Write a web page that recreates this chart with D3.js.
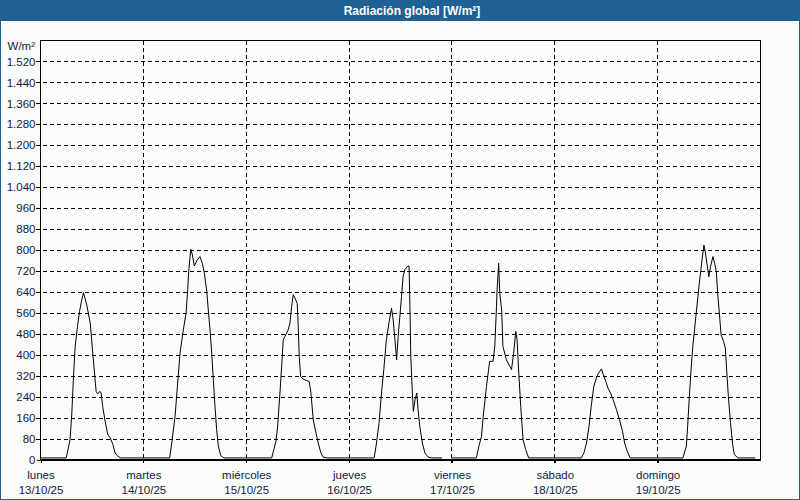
<!DOCTYPE html>
<html>
<head>
<meta charset="utf-8">
<script src="https://cdn.jsdelivr.net/npm/d3@7/dist/d3.min.js"></script>
<style>
  html, body { margin: 0; padding: 0; background: #f9fcf9; }
  svg { display: block; }
</style>
</head>
<body>
<svg id="chart" width="800" height="500"></svg>
<script>
// ---- data ----
const titleText = "Radiación global [W/m²]";
const unitLabel = "W/m²";
const startDate = new Date(2025, 9, 13, 0, 0, 0);
const dayNames = ["lunes", "martes", "miércoles", "jueves", "viernes", "sábado", "domingo"];
const dayDates = ["13/10/25", "14/10/25", "15/10/25", "16/10/25", "17/10/25", "18/10/25", "19/10/25"];
const yTicks = [0, 80, 160, 240, 320, 400, 480, 560, 640, 720, 800, 880, 960, 1040, 1120, 1200, 1280, 1360, 1440, 1520];

// hours since 13/10/25 00:00, and global radiation (W/m²); null = missing data
const hours = [
  0, 6.0, 6.9, 7.31, 7.7, 8.09, 8.63, 9.1, 9.64, 10.03, 10.8, 11.6, 12.2, 12.6, 12.98, 13.3, 13.9, 14.15, 14.5, 15.08, 15.7, 16.25, 16.9, 17.4, 18.0, 18.7,
  30.14, 30.63, 31.4, 31.94, 32.56, 33.33, 33.96, 34.35, 34.58, 34.9, 35.06, 35.44, 35.9, 36.45, 37.2, 37.8, 38.23, 38.8, 39.15, 39.56, 39.95, 40.33, 40.72, 41.1, 41.5, 42.05, 42.8,
  53.94, 54.94, 55.33, 55.87, 56.27, 56.64, 57.04, 57.8, 58.2, 58.6, 58.97, 59.37, 59.9, 60.14, 60.37, 60.7, 61.3, 62.1, 62.7, 63.1, 63.64, 64.27, 64.8, 65.43, 65.97, 66.9,
  77.86, 78.4, 79.0, 79.56, 80.1, 80.7, 81.3, 81.9, 82.3, 82.7, 83.1, 83.45, 83.85, 84.24, 84.6, 85.0, 85.6, 86.0, 86.2, 86.4, 86.7, 87.0, 87.4, 87.8, 88.1, 88.5, 89.1, 89.7, 90.45, 91.2, 93.7,
  94.8,
  95.9, 101.7, 102.3, 102.9, 103.3, 104.06, 104.8, 105.6, 106.0, 106.4, 106.5, 106.9, 107.16, 107.6, 107.9, 108.7, 109.5, 109.9, 110.4, 110.9, 111.2, 111.6, 112.05, 112.6, 113.2, 113.9,
  126.2, 126.8, 127.4, 128.0, 128.5, 129.1, 129.7, 130.2, 130.9, 131.2, 131.9, 132.4, 133.0, 133.6, 134.4, 135.1, 135.8, 136.3, 136.9, 137.6,
  149.9, 150.7, 151.0, 151.4, 151.8, 152.2, 152.6, 153.0, 153.4, 153.8, 154.1, 154.4, 154.8, 155.1, 155.5, 155.95, 156.35, 156.9, 157.3, 157.7, 158.0, 158.4, 158.8, 159.4, 159.8, 160.1, 160.5, 161.0, 161.5, 161.9, 162.7, 166.8
];
const radiation = [
  6, 6, 76, 178, 317, 432, 508, 565, 610, 637, 590, 521, 406, 330, 260, 251, 260, 254, 203, 146, 95, 83, 57, 25, 13, 6,
  6, 63, 165, 279, 406, 495, 559, 648, 717, 775, 803, 781, 739, 759, 775, 747, 711, 641, 571, 495, 406, 305, 203, 114, 51, 15, 6,
  6, 70, 127, 254, 356, 457, 470, 495, 521, 584, 629, 616, 597, 508, 394, 317, 307, 301, 298, 254, 152, 102, 63, 25, 9, 6,
  6, 63, 140, 254, 343, 457, 521, 578, 533, 457, 381, 470, 546, 622, 698, 724, 737, 739, 584, 394, 279, 184, 229, 254, 190, 127, 63, 25, 9, 6, 6,
  null,
  6, 6, 51, 89, 165, 279, 375, 375, 432, 584, 635, 749, 635, 571, 432, 381, 356, 343, 406, 489, 457, 330, 203, 76, 38, 6,
  6, 25, 63, 127, 203, 279, 311, 330, 346, 330, 298, 273, 254, 229, 190, 152, 108, 63, 32, 6,
  6, 51, 127, 241, 343, 432, 495, 559, 622, 686, 724, 768, 819, 794, 749, 698, 737, 775, 749, 717, 635, 559, 476, 451, 425, 343, 241, 140, 57, 19, 6, 6
];

// ---- layout ----
const W = 800, H = 500;
const plot = { left: 40.5, right: 760.5, top: 40.5, bottom: 459.5 };
const textColor = "#101c40";
const font = "Liberation Sans, Arial, sans-serif";

const svg = d3.select("#chart");

// background and frame
svg.append("rect").attr("x", 0).attr("y", 0).attr("width", W).attr("height", H).attr("fill", "#f9fcf9");
svg.append("rect").attr("x", 0.5).attr("y", 0.5).attr("width", W - 1).attr("height", H - 1)
  .attr("fill", "none").attr("stroke", "#1f6194").attr("stroke-width", 1);
svg.append("rect").attr("x", 0).attr("y", 0).attr("width", W).attr("height", 21).attr("fill", "#1f6194");
svg.append("text").attr("x", 412).attr("y", 15).attr("text-anchor", "middle")
  .attr("font-family", font).attr("font-size", "12px").attr("font-weight", "bold")
  .attr("fill", "#ffffff").text(titleText);

const endDate = d3.timeDay.offset(startDate, 7);
const x = d3.scaleTime().domain([startDate, endDate]).range([plot.left, plot.right]);
const y = d3.scaleLinear().domain([0, 1600]).range([plot.bottom, plot.top]);

const dayTicks = d3.range(7).map(i => d3.timeDay.offset(startDate, i));

// horizontal dashed gridlines (with tick stubs)
svg.append("g").selectAll("line").data(yTicks.filter(d => d > 0)).join("line")
  .attr("x1", 36).attr("x2", plot.right)
  .attr("y1", d => Math.round(y(d)) + 0.5).attr("y2", d => Math.round(y(d)) + 0.5)
  .attr("stroke", "#000").attr("stroke-width", 1).attr("stroke-dasharray", "4,3")
  .attr("shape-rendering", "crispEdges");

// vertical dashed gridlines
svg.append("g").selectAll("line").data(dayTicks.slice(1)).join("line")
  .attr("x1", d => Math.round(x(d) - 0.5) + 0.5).attr("x2", d => Math.round(x(d) - 0.5) + 0.5)
  .attr("y1", plot.top).attr("y2", plot.bottom + 3)
  .attr("stroke", "#000").attr("stroke-width", 1).attr("stroke-dasharray", "4,3")
  .attr("shape-rendering", "crispEdges");

// y axis labels
const nf = d3.formatLocale({ decimal: ",", thousands: ".", grouping: [3], currency: ["", "€"] }).format(",d");
const yAxis = d3.axisLeft(y).tickValues(yTicks).tickFormat(nf).tickSize(4).tickPadding(1);
const gy = svg.append("g").attr("transform", `translate(${plot.left},0)`).call(yAxis);
gy.select(".domain").remove();
gy.selectAll(".tick line").attr("stroke", "#000").attr("shape-rendering", "crispEdges");
gy.selectAll(".tick text").attr("font-family", font).attr("font-size", "11.5px").attr("fill", textColor);

// unit label
svg.append("text").attr("x", 35).attr("y", 50).attr("text-anchor", "end")
  .attr("font-family", font).attr("font-size", "11.5px").attr("fill", textColor).text(unitLabel);

// x axis
const xAxis = d3.axisBottom(x).tickValues(dayTicks).tickSize(3).tickFormat(() => "");
const gx = svg.append("g").attr("transform", `translate(0,${plot.bottom})`).call(xAxis);
gx.select(".domain").remove();
gx.selectAll(".tick line").attr("stroke", "#000").attr("shape-rendering", "crispEdges");
gx.selectAll(".tick text").each(function (d, i) {
  const t = d3.select(this).attr("y", 0).attr("dy", null)
    .attr("font-family", font).attr("font-size", "11.5px").attr("fill", textColor);
  t.append("tspan").attr("x", 0).attr("y", 19.5).text(dayNames[i]);
  t.append("tspan").attr("x", 0).attr("y", 34.5).text(dayDates[i]);
});

// plot frame
svg.append("rect").attr("x", plot.left).attr("y", plot.top)
  .attr("width", plot.right - plot.left).attr("height", plot.bottom - plot.top)
  .attr("fill", "none").attr("stroke", "#000").attr("stroke-width", 1).attr("shape-rendering", "crispEdges");
svg.append("line").attr("x1", plot.left).attr("x2", plot.right)
  .attr("y1", plot.bottom + 1).attr("y2", plot.bottom + 1)
  .attr("stroke", "#000").attr("stroke-width", 1).attr("shape-rendering", "crispEdges");

// series
const series = hours.map((h, i) => ({ t: new Date(startDate.getTime() + h * 3600e3), v: radiation[i] }));
const line = d3.line().defined(d => d.v !== null).x(d => x(d.t)).y(d => y(d.v));
svg.append("path").datum(series).attr("d", line)
  .attr("fill", "none").attr("stroke", "#000").attr("stroke-width", 1).attr("stroke-linejoin", "round");
</script>
</body>
</html>
